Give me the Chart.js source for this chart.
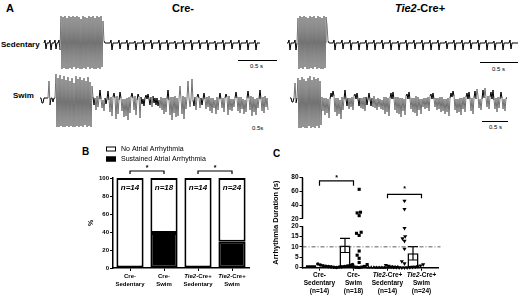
<!DOCTYPE html>
<html>
<head>
<meta charset="utf-8">
<script src="https://cdn.jsdelivr.net/npm/chart.js@4.4.1/dist/chart.umd.min.js"></script>
<style>
  html, body { margin: 0; padding: 0; background: #fff; }
  body { position: relative; width: 520px; height: 296px; overflow: hidden;
         font-family: "Liberation Sans", Arial, sans-serif; color: #000; }
  .t { position: absolute; white-space: nowrap; line-height: 1; font-weight: bold; }
  .sb { position: absolute; font-size: 6px; line-height: 1; white-space: nowrap; }
  .bar { position: absolute; height: 0; border-top: 1px solid #000; }
  canvas { position: absolute; }
</style>
</head>
<body>
<div class="t" style="left:6px;top:3px;font-size:11px">A</div>
<div class="t" style="left:163px;top:3px;width:40px;text-align:center;font-size:11px">Cre-</div>
<div class="t" style="left:380px;top:3px;width:80px;text-align:center;font-size:11px"><i>Tie2</i>-Cre+</div>
<div class="t" style="left:1px;top:41px;font-size:8px">Sedentary</div>
<div class="t" style="left:13px;top:92px;font-size:8px">Swim</div>

<div class="bar" style="left:238px;top:60px;width:39px"></div>
<div class="sb" style="left:250px;top:63px">0.5 s</div>
<div class="bar" style="left:480px;top:62px;width:38px"></div>
<div class="sb" style="left:492px;top:66px">0.5 s</div>
<div class="sb" style="left:252px;top:125px">0.5s</div>
<div class="bar" style="left:482px;top:121px;width:26px"></div>
<div class="sb" style="left:489px;top:124px">0.5 s</div>

<div class="t" style="left:82px;top:147px;font-size:10px">B</div>
<div class="t" style="left:273px;top:149px;font-size:10px">C</div>

<canvas id="traceSed" width="520" height="64" style="left:0;top:10px"></canvas>
<canvas id="traceSwim" width="520" height="62" style="left:0;top:70px"></canvas>
<canvas id="chartB" width="180" height="156" style="left:80px;top:140px"></canvas>
<canvas id="chartC" width="250" height="156" style="left:270px;top:140px"></canvas>

<script>
// ECG traces, one sample per pixel of the figure
const creSedTrace = [
  0, 3, -6, 0, 0, 0, 3, -7, 0, 0, 0, 3, -6, 0, 0, 3, -7,
  27, -26, 26, -25, 27, -26, 25, -26, 27, -25, 26, -26, 27, -24, 26, -26, 27, -25, 26, -26,
  24, -26, 27, -25, 26, -26, 25, -24, 27, -26, 26, -25, 27, -26, 25, -26, 27, -25, 26, -26, 27, -24, 22,
  2, 0,
  0, 0, 0, 0, 0, 3, -7, 0,  0, 0, 0, 0, 0, 3, -6, 0,  0, 0, 0, 0, 0, 3, -7, 0,  0, 0, 0, 0, 0, 2, -7, 0,
  0, 0, 0, 0, 0, 3, -7, 0,  0, 0, 0, 0, 0, 3, -6, 0,  0, 0, 0, 0, 0, 3, -7, 0,  0, 0, 0, 0, 0, 3, -7, 0,
  0, 0, 0, 0, 0, 2, -6, 0,  0, 0, 0, 0, 0, 3, -7, 0,  0, 0, 0, 0, 0, 3, -7, 0,  0, 0, 0, 0, 0, 3, -6, 0,
  0, 0, 0, 0, 0, 3, -7, 0,  0, 0, 0, 0, 0, 2, -7, 0,  0, 0, 0, 0, 0, 3, -7, 0,  0, 0, 0, 0, 0, 3, -6, 0,
  0, 0, 0, 0, 0, 3, -7, 0,  0, 0, 0, 0, 0, 3, -7, 0,  0, 0, 0, 0, 0, 3, -7, 0,
  0, 0, 0];
const tieSedTrace = [
  0, 0, 3, -7, 0, 0, 0, 0, 3, -7, 0,
  25, -26, 27, -25, 26, -26, 27, -24, 26, -26, 25, -26, 27, -25, 26,
  -26, 27, -24, 25, -26, 27, -25, 26, -26, 25, -26, 27, -25, 26, 18,
  2,
  0, 0, 0, 0, 0, 3, -7, 0,  0, 0, 0, 0, 0, 3, -6, 0,  0, 0, 0, 0, 0, 3, -7, 0,  0, 0, 0, 0, 0, 2, -7, 0,
  0, 0, 0, 0, 0, 3, -7, 0,  0, 0, 0, 0, 0, 3, -7, 0,  0, 0, 0, 0, 0, 3, -6, 0,  0, 0, 0, 0, 0, 3, -7, 0,
  0, 0, 0, 0, 0, 2, -7, 0,  0, 0, 0, 0, 0, 3, -7, 0,  0, 0, 0, 0, 0, 3, -6, 0,  0, 0, 0, 0, 0, 3, -7, 0,
  0, 0, 0, 0, 0, 3, -7, 0,  0, 0, 0, 0, 0, 3, -7, 0,  0, 0, 0, 0, 0, 2, -6, 0,  0, 0, 0, 0, 0, 3, -7, 0,
  0, 0, 0, 0, 0, 3, -7, 0,  0, 0, 0, 0, 0, 3, -6, 0,  0, 0, 0, 0, 0, 3, -7, 0,  0, 0, 0, 0, 0, 3, -7, 0,
  0, 0, 0, 0, 0, 2, -7, 0,  0, 0, 0, 0, 0, 3, -7, 0,  0, 0, 0, 0, 0, 3, -6, 0,
  0, 0, 0, 0, 0, 0];
const creSwimTrace = [
  0, 0, -5, -5, 0, 0, 0, 0, 0, 17, -7, 0, 0, -4, 0, 0,
  24, -29, 20, -29, 23, -28, 19, -29, 22, -29, 18, -28, 21, -29, 17, -28, 20, -29, 15, -29,
  22, -28, 19, -29, 21, -28, 18, -29, 20, -27, 17, -29, 21, -28, 16, -29, 12,
  1, -7, 0, -12, 2, -9, -1, 8, -1, -10, -2, -13, 0, -6, -1, 7,
  -2, -14, 1, -18, 1, 5, 0, -21, 2, -16, -2, 6, 0, -13, -1, -19,
  -1, -18, 0, -22, 1, -15, 1, 5, 0, -12, 2, -17, -2, 4, 1, -20,
  1, -6, -1, -8, 0, 3, -1, 4, -1, -7, 1, -9, 2, -5, 0, -7,
  0, -8, -2, -10, 1, -12, 0, -16, 0, -14, -1, 8, -2, -17, 1, -22,
  1, -15, 2, -19, 0, -18, -1, 12, -1, -16, 2, -21, 1, -11, 0, 17,
  0, -9, -1, 19, -2, -8, 1, -12, 1, 4, 0, -10, 0, -7, -1, 5,
  -1, -11, 1, -9, 2, -13, 0, -15, 0, -10, -2, -16, 1, -12, -1, 5,
  -1, -10, 0, -14, 0, 4, 1, -17, 2, -12, -1, -13, -1, -9, 0, 6,
  0, -13, 1, -15, 1, -11, -1, -16, -2, -14, 0, 7, 0, -12, 2, -18,
  1, -14, -1, -17, 0, -10, -1, 8, -1, -13, 1, -15, 2, -9, 0, -12];
const tieSwimTrace = [
  0, 0, -4, -4, 0, 15, -5, 0,
  20, -30, 18, -30, 21, -29, 19, -30, 17, -30, 20, -28, 22, -30, 18, -29, 21, -30, 19, -28,
  20, -30, 17, -27,
  1, -13, 0, -17, 0, -15, -1, -20, -1, 5, 1, 7, 2, -14, 0, -18,
  0, -16, -2, -21, 1, -12, -1, 8, -1, -8, 0, -11, 0, -9, 1, -12,
  2, 4, -1, 5, -1, -8, 0, -10, 0, -11, 1, -13, 1, -7, -1, 5,
  -1, -8, 0, -9, 2, -10, -1, -12, 0, -9, -1, -11, -2, -12, 1, -16,
  1, -14, 0, -18, 0, 5, -1, 6, -1, -12, 1, -15, 1, -16, 0, -19,
  0, -13, -1, -17, 2, 4, -1, 6, -1, -11, 0, -14, 0, -15, 2, -18,
  1, -12, -1, -16, -1, -9, 0, -11, 0, -10, 1, -13, 2, 4, -1, 5,
  -1, -9, 0, -12, 0, -11, 1, -14, 1, -13, -1, -16, -1, -14, 0, -18,
  0, 5, 1, 7, 2, -12, -1, -15, -1, -14, 0, -17, 0, -11, 1, -14,
  1, 5, -1, 6, -1, -13, 0, -16, 0, 7, -1, 9, 2, -10, -1, -12,
  -1, 8, 0, 10, 0, -9, 2, -11, 1, 6, -1, 8, -2, -11, 0, -14,
  1, -10, -1, 6, 0, -11, -1, -13, 0, 0];

// Groups
const groupTop = ['Cre-', 'Cre-', 'Tie2-Cre+', 'Tie2-Cre+'];
const groupBottom = ['Sedentary', 'Swim', 'Sedentary', 'Swim'];
const groupN = [14, 18, 14, 24];

// Panel B
const sustainedPct = [0, 38.9, 0, 29.2];
const noArrhythmiaPct = [100, 61.1, 100, 70.8];
const pctTicks = [0, 20, 40, 60, 80, 100];

// Panel C (seconds)
const creSedDur = [1.8, 1.5, 1.3, 1.1, 0.9, 0.8, 0.7, 0.6, 0.5, 0.4, 0.4, 0.3, 0.2, 0.1];
const creSwimDur = [63, 29.5, 28.5, 24.5, 17, 16.5, 15.5, 8, 6, 4.5, 2.5, 1.5, 1, 0.6, 0.4, 0.3, 0.2, 0.1];
const tieSedDur = [0.4, 0.3, 0.3, 0.2, 0.2, 0.2, 0.1, 0.1, 0.1, 0.1, 0, 0, 0, 0];
const tieSwimDur = [46, 34, 19, 15, 14, 12.8, 9, 3, 2, 1.5, 1.2, 1, 0.8, 0.6, 0.5, 0.4, 0.3, 0.3, 0.2, 0.2, 0.1, 0.1, 0, 0];
const meanDur = [0.7, 10.7, 0.2, 6.9];
const semDur = [0.15, 3.4, 0.05, 3.2];
const durTicksLow = [0, 5, 10, 15, 20];
const durTicksHigh = [20, 40, 60, 80];
const durThreshold = 10;

const FONT = '"Liberation Sans", Arial, sans-serif';
Chart.defaults.font.family = FONT;
Chart.defaults.color = '#000';

// ---------- panel A ----------
const burstFill = c => Math.abs(c.p0.parsed.y) + Math.abs(c.p1.parsed.y) >= 44 ? 'rgba(95,95,95,0.5)' : 'rgba(0,0,0,0)';
const traceColor = c => Math.max(Math.abs(c.p0.parsed.y), Math.abs(c.p1.parsed.y)) > 8 ? '#727272' : '#000';

function traceChart(id, traces, yMin, yMax) {
  return new Chart(document.getElementById(id), {
    type: 'line',
    data: {
      datasets: traces.map(t => ({
        data: t.values.map((v, i) => ({ x: t.start + i, y: v })),
        borderWidth: 1,
        borderColor: '#000',
        backgroundColor: 'rgba(0,0,0,0)',
        fill: 'origin',
        pointRadius: 0,
        segment: { borderColor: traceColor, backgroundColor: burstFill }
      }))
    },
    options: {
      responsive: false, animation: false, devicePixelRatio: 1,
      layout: { padding: 0 },
      plugins: { legend: { display: false }, tooltip: { enabled: false } },
      scales: {
        x: { type: 'linear', min: 0, max: 520, display: false },
        y: { min: yMin, max: yMax, display: false }
      }
    }
  });
}

traceChart('traceSed', [{ values: creSedTrace, start: 44 }, { values: tieSedTrace, start: 287 }], -31, 33);
traceChart('traceSwim', [{ values: creSwimTrace, start: 40 }, { values: tieSwimTrace, start: 290 }], -34, 28);

// ---------- shared helpers ----------
const bold = (size, style) => ({ family: FONT, size, weight: 'bold', style });

function drawMixed(ctx, text, cx, y, size) {
  const parts = text.startsWith('Tie2') ? [['Tie2', 'italic bold'], [text.slice(4), 'bold']] : [[text, 'bold']];
  let w = 0;
  parts.forEach(p => { ctx.font = `${p[1]} ${size}px ${FONT}`; w += ctx.measureText(p[0]).width; });
  let x = cx - w / 2;
  parts.forEach(p => {
    ctx.font = `${p[1]} ${size}px ${FONT}`;
    ctx.fillText(p[0], x, y);
    x += ctx.measureText(p[0]).width;
  });
}

function groupLabels(lines, first, gap, size) {
  return {
    id: 'groupLabels',
    afterDraw(chart) {
      const { ctx } = chart, xs = chart.scales.x;
      ctx.save();
      ctx.fillStyle = '#000';
      ctx.textBaseline = 'middle';
      ctx.textAlign = 'left';
      lines.forEach((line, r) => {
        line.forEach((text, i) => drawMixed(ctx, text, xs.getPixelForTick(i), xs.top + first + r * gap, size));
      });
      ctx.restore();
    }
  };
}

function brackets(items, toValue) {
  return {
    id: 'brackets',
    afterDraw(chart) {
      const { ctx } = chart, xs = chart.scales.x, ys = chart.scales.y;
      ctx.save();
      ctx.strokeStyle = '#000';
      ctx.fillStyle = '#000';
      ctx.lineWidth = 1.2;
      ctx.font = `bold 7px ${FONT}`;
      ctx.textAlign = 'center';
      ctx.textBaseline = 'middle';
      items.forEach(b => {
        const x0 = xs.getPixelForTick(b.from), x1 = xs.getPixelForTick(b.to);
        const y = ys.getPixelForValue(toValue(b.y));
        ctx.beginPath();
        ctx.moveTo(x0, y + b.leg); ctx.lineTo(x0, y); ctx.lineTo(x1, y); ctx.lineTo(x1, y + b.leg);
        ctx.stroke();
        ctx.fillText('*', (x0 + x1) / 2, y - b.star);
      });
      ctx.restore();
    }
  };
}

// ---------- panel B ----------
const boxLegend = {
  id: 'boxLegend',
  afterDraw(chart) {
    const { ctx } = chart, left = chart.chartArea.left - 7, top = chart.chartArea.top - 29;
    ctx.save();
    ctx.font = `7px ${FONT}`;
    ctx.textBaseline = 'middle';
    chart.data.datasets.slice().reverse().forEach((ds, i) => {
      const y = top + i * 10;
      ctx.fillStyle = ds.backgroundColor;
      ctx.fillRect(left, y - 2.5, 10, 5);
      ctx.strokeStyle = '#000';
      ctx.lineWidth = 1;
      ctx.strokeRect(left + 0.5, y - 2, 9, 4);
      ctx.fillStyle = '#000';
      ctx.fillText(ds.label, left + 15, y);
    });
    ctx.restore();
  }
};

const nLabels = {
  id: 'nLabels',
  afterDatasetsDraw(chart) {
    const { ctx } = chart, meta = chart.getDatasetMeta(1), y = chart.scales.y.getPixelForValue(89);
    ctx.save();
    ctx.font = `italic bold 8px ${FONT}`;
    ctx.fillStyle = '#000';
    ctx.textAlign = 'center';
    ctx.textBaseline = 'middle';
    meta.data.forEach((bar, i) => ctx.fillText('n=' + groupN[i], bar.x, y));
    ctx.restore();
  }
};

const barStyle = { borderColor: '#000', borderWidth: 2, borderSkipped: false, barPercentage: 0.8, categoryPercentage: 1 };

new Chart(document.getElementById('chartB'), {
  type: 'bar',
  data: {
    labels: groupTop.map((g, i) => g + ' ' + groupBottom[i]),
    datasets: [
      { label: 'Sustained Atrial Arrhythmia', data: sustainedPct, backgroundColor: '#000', ...barStyle },
      { label: 'No Atrial Arrhythmia', data: noArrhythmiaPct, backgroundColor: '#fff', ...barStyle }
    ]
  },
  options: {
    responsive: false, animation: false, devicePixelRatio: 1,
    layout: { padding: { top: 38, right: 11, left: 0, bottom: 0 } },
    plugins: { legend: { display: false }, tooltip: { enabled: false } },
    scales: {
      x: {
        stacked: true,
        grid: { drawOnChartArea: false, offset: false, tickLength: 3, color: '#000' },
        border: { color: '#000', width: 1.5 },
        ticks: { display: false },
        afterFit: s => { s.height = 28; }
      },
      y: {
        stacked: true, min: 0, max: 100,
        afterBuildTicks: s => { s.ticks = pctTicks.map(v => ({ value: v })); },
        grid: { drawOnChartArea: false, tickLength: 3, color: '#000' },
        border: { color: '#000', width: 1.5 },
        ticks: { font: bold(6), color: '#000', padding: 1 },
        title: { display: true, text: '%', font: bold(7), color: '#000', padding: { top: 7, bottom: 0 } },
        afterFit: s => { s.width = 33; }
      }
    }
  },
  plugins: [
    boxLegend, nLabels,
    brackets([{ from: 0, to: 1, y: 107.8, leg: 3, star: 3 }, { from: 2, to: 3, y: 107.8, leg: 3, star: 3 }], v => v),
    groupLabels([groupTop, groupBottom], 8, 8, 6)
  ]
});

// ---------- panel C (broken y axis) ----------
const BREAK = 20, GAP = 3.5, TOP_K = 0.328;
const dispHigh = v => BREAK + GAP + (v - BREAK) * TOP_K;
const toDisp = v => v <= BREAK ? v : dispHigh(v);
const durTickLabels = durTicksLow.concat(durTicksHigh).map(String);

function swarm(values, group) {
  const pxX = 34, pxY = 2.085, d = 3.9, placed = [];
  return values.slice().sort((a, b) => a - b).map(v => {
    const py = toDisp(v) * pxY;
    for (let k = 0; ; k++) {
      const px = (k % 2 ? -1 : 1) * Math.ceil(k / 2);
      if (placed.every(p => (p.px - px) ** 2 + (p.py - py) ** 2 >= d * d)) {
        placed.push({ px, py });
        return { x: group + px / pxX, y: toDisp(v) };
      }
    }
  });
}

const markers = [
  { values: creSedDur, pointStyle: 'circle', pointRadius: 1.8, pointRotation: 0 },
  { values: creSwimDur, pointStyle: 'rect', pointRadius: 2.2, pointRotation: 0 },
  { values: tieSedDur, pointStyle: 'triangle', pointRadius: 2.2, pointRotation: 0 },
  { values: tieSwimDur, pointStyle: 'triangle', pointRadius: 2.4, pointRotation: 180 }
];

const axisAndThreshold = {
  id: 'axisAndThreshold',
  afterDraw(chart) {
    const { ctx } = chart, ys = chart.scales.y, { left, right } = chart.chartArea;
    ctx.save();
    ctx.strokeStyle = '#000';
    ctx.lineWidth = 1.5;
    ctx.beginPath();
    ctx.moveTo(left, ys.getPixelForValue(0) + 0.75); ctx.lineTo(left, ys.getPixelForValue(BREAK));
    ctx.moveTo(left, ys.getPixelForValue(dispHigh(durTicksHigh[0]))); ctx.lineTo(left, ys.getPixelForValue(dispHigh(80)));
    ctx.stroke();
    const y = ys.getPixelForValue(durThreshold);
    ctx.strokeStyle = '#333';
    ctx.lineWidth = 0.8;
    ctx.setLineDash([4, 2, 1, 2]);
    ctx.beginPath();
    ctx.moveTo(left, y); ctx.lineTo(right + 2, y);
    ctx.stroke();
    ctx.restore();
  }
};

const errorBars = {
  id: 'errorBars',
  afterDatasetsDraw(chart) {
    const { ctx } = chart, ys = chart.scales.y, meta = chart.getDatasetMeta(0);
    ctx.save();
    ctx.strokeStyle = '#000';
    ctx.lineWidth = 1.2;
    meta.data.forEach((bar, i) => {
      const top = ys.getPixelForValue(toDisp(meanDur[i] + semDur[i]));
      const bot = ys.getPixelForValue(toDisp(Math.max(0, meanDur[i] - semDur[i])));
      ctx.beginPath();
      ctx.moveTo(bar.x, top); ctx.lineTo(bar.x, bot);
      ctx.moveTo(bar.x - 5, top); ctx.lineTo(bar.x + 5, top);
      ctx.moveTo(bar.x - 5, bot); ctx.lineTo(bar.x + 5, bot);
      ctx.stroke();
    });
    ctx.restore();
  }
};

new Chart(document.getElementById('chartC'), {
  type: 'bar',
  data: {
    labels: groupTop.map((g, i) => g + ' ' + groupBottom[i]),
    datasets: [
      { data: meanDur.map(toDisp), backgroundColor: '#fff', borderColor: '#000', borderWidth: 1.5, borderSkipped: false,
        barPercentage: 0.65, categoryPercentage: 1, order: 2, xAxisID: 'x', yAxisID: 'y' },
      ...markers.map((m, i) => ({
        type: 'scatter', data: swarm(m.values, i), xAxisID: 'xj', yAxisID: 'y', order: 1, clip: false,
        pointStyle: m.pointStyle, pointRadius: m.pointRadius, pointRotation: m.pointRotation,
        backgroundColor: '#000', borderColor: '#000', borderWidth: 0
      }))
    ]
  },
  options: {
    responsive: false, animation: false, devicePixelRatio: 1,
    layout: { padding: { top: 37.7, right: 81.5, left: 0, bottom: 0 } },
    plugins: { legend: { display: false }, tooltip: { enabled: false } },
    scales: {
      x: {
        type: 'category',
        grid: { drawOnChartArea: false, offset: false, tickLength: 3, color: '#000' },
        border: { color: '#000', width: 1.5 },
        ticks: { display: false },
        afterFit: s => { s.height = 28.3; }
      },
      xj: { type: 'linear', min: -0.5, max: 3.5, display: false },
      y: {
        min: 0, max: dispHigh(80),
        afterBuildTicks: s => {
          s.ticks = durTicksLow.map(v => ({ value: v })).concat(durTicksHigh.map(v => ({ value: dispHigh(v) })));
        },
        ticks: { callback: (v, i) => durTickLabels[i], font: bold(6.5), color: '#000', padding: 1 },
        grid: { drawOnChartArea: false, tickLength: 3, color: '#000' },
        border: { display: false },
        title: { display: true, text: 'Arrhythmia Duration (s)', font: bold(7.5), color: '#000', padding: { top: 1.5, bottom: 0 } },
        afterFit: s => { s.width = 32.5; }
      }
    }
  },
  plugins: [
    errorBars, axisAndThreshold,
    brackets([{ from: 0, to: 1, y: 75.5, leg: 5, star: 3 }, { from: 2, to: 3, y: 55.7, leg: 4, star: 5 }], toDisp),
    groupLabels([groupTop, groupBottom, groupN.map(n => `(n=${n})`)], 7.3, 8, 6.5)
  ]
});
</script>
</body>
</html>
